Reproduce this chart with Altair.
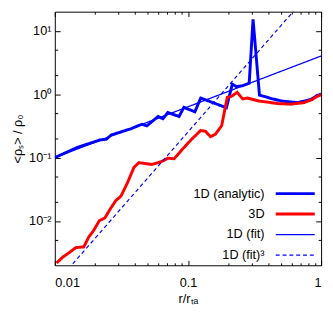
import altair as alt
import pandas as pd

# ---- data ----
analytic_x = [0.01, 0.0148, 0.0219, 0.0244, 0.0265, 0.0371, 0.0452, 0.0491, 0.0597, 0.0649,
              0.0706, 0.0857, 0.0932, 0.1127, 0.1247, 0.1945, 0.2153, 0.2301, 0.2576, 0.2884,
              0.3083, 0.3443, 0.426, 0.5035, 0.6653, 0.8318, 0.9311, 1.0]
analytic_y = [0.1, 0.145, 0.19, 0.195, 0.227, 0.284, 0.336, 0.316, 0.445, 0.41,
              0.514, 0.445, 0.62, 0.526, 0.87, 0.61, 1.44, 1.32, 1.36, 1.49,
              15.2, 0.97, 0.85, 0.78, 0.736, 0.82, 0.95, 1.0]

sim3d_x = [0.0103, 0.0115, 0.0129, 0.0144, 0.0165, 0.0180, 0.0195, 0.0216, 0.0238, 0.0265,
           0.0288, 0.0314, 0.0351, 0.0393, 0.0427, 0.0534, 0.0631, 0.0706, 0.0788, 0.0908,
           0.1054, 0.1247, 0.1355, 0.1475, 0.1603, 0.1791, 0.1972, 0.2118, 0.2342, 0.2576,
           0.2800, 0.3404, 0.4765, 0.5957, 0.7430, 0.8551, 0.9311, 1.0]
sim3d_y = [0.00217, 0.0027, 0.0032, 0.0038, 0.0039, 0.0056, 0.0070, 0.0101, 0.0112, 0.0163,
           0.0211, 0.0247, 0.040, 0.070, 0.083, 0.078, 0.086, 0.098, 0.096, 0.135,
           0.19, 0.268, 0.26, 0.214, 0.232, 0.318, 0.89, 0.92, 1.07, 0.84,
           0.87, 0.78, 0.71, 0.695, 0.736, 0.82, 0.92, 0.98]

fit_x = [0.01, 1.0]
fit_y = [0.1, 4.0]
fit3_x = [0.01, 1.0]
fit3_y = [0.001, 64.0]

series_names = ["1D (analytic)", "3D", "1D (fit)", "1D (fit)³"]
series_colors = ["#0000ff", "#ff0000", "#0000ff", "#0000ff"]
series_widths = [3, 3, 1.3, 1.2]
series_dashes = [[1, 0], [1, 0], [1, 0], [4, 3]]

x_tick_values = [0.01, 0.02, 0.03, 0.04, 0.05, 0.06, 0.07, 0.08, 0.09,
                 0.1, 0.2, 0.3, 0.4, 0.5, 0.6, 0.7, 0.8, 0.9, 1.0]
y_tick_values = [0.005, 0.01, 0.02, 0.05, 0.1, 0.2, 0.5, 1, 2, 5, 10]
x_label_values = [0.01, 0.1, 1]
y_label_values = [0.01, 0.1, 1, 10]

rows = []
for name, xs_, ys_ in [(series_names[0], analytic_x, analytic_y),
                       (series_names[1], sim3d_x, sim3d_y),
                       (series_names[2], fit_x, fit_y),
                       (series_names[3], fit3_x, fit3_y)]:
    for a, b in zip(xs_, ys_):
        rows.append({"x": a, "y": b, "series": name})
df = pd.DataFrame(rows)

W, H = 273, 260
FONT = "Liberation Sans"

xs = alt.Scale(type="log", domain=[0.01, 1])
ys = alt.Scale(type="log", domain=[0.002, 20])

major_test = "abs(log(datum.value)/LN10 - round(log(datum.value)/LN10)) < 0.01"
x_tick_size = {"condition": {"test": major_test, "value": 5}, "value": 2.5}
y_tick_size = {"condition": {"test": major_test, "value": 5.5}, "value": 3}

y_label_expr = ("datum.value >= 5 ? '10¹' : datum.value >= 0.5 ? '10⁰' : "
                "datum.value >= 0.05 ? '10⁻¹' : '10⁻²'")

lines = alt.Chart(df).mark_line(clip=True).encode(
    x=alt.X("x:Q", scale=xs,
            axis=alt.Axis(title="r/rₜₐ", values=x_label_values, format="~g",
                          ticks=False, domain=False, labelPadding=12, titlePadding=3)),
    y=alt.Y("y:Q", scale=ys,
            axis=alt.Axis(title="<ρₛ> / ρ₀", values=y_label_values, labelExpr=y_label_expr,
                          ticks=False, domain=False, labelPadding=4, titlePadding=4)),
    color=alt.Color("series:N", scale=alt.Scale(domain=series_names, range=series_colors),
                    legend=alt.Legend(title=None)),
    strokeWidth=alt.StrokeWidth("series:N",
                                scale=alt.Scale(type="ordinal", domain=series_names, range=series_widths),
                                legend=alt.Legend(title=None)),
    strokeDash=alt.StrokeDash("series:N", scale=alt.Scale(domain=series_names, range=series_dashes),
                              legend=alt.Legend(title=None)),
)

ticks_a = alt.Chart(df).mark_point(opacity=0).encode(
    x=alt.X("x:Q", scale=xs,
            axis=alt.Axis(orient="top", offset=-H, values=x_tick_values, labels=False,
                          title=None, domain=False, tickSize=x_tick_size)),
    y=alt.Y("y:Q", scale=ys,
            axis=alt.Axis(orient="right", offset=-W, values=y_tick_values, labels=False,
                          title=None, domain=False, tickSize=y_tick_size)),
)
ticks_b = alt.Chart(df).mark_point(opacity=0).encode(
    x=alt.X("x:Q", scale=xs,
            axis=alt.Axis(orient="bottom", offset=-H, values=x_tick_values, labels=False,
                          title=None, domain=False, tickSize=x_tick_size)),
    y=alt.Y("y:Q", scale=ys,
            axis=alt.Axis(orient="left", offset=-W, values=y_tick_values, labels=False,
                          title=None, domain=False, tickSize=y_tick_size)),
)

chart = alt.layer(lines, ticks_a, ticks_b).resolve_axis(
    x="independent", y="independent"
).properties(
    width=W, height=H,
    autosize=alt.AutoSizeParams(type="none"),
    padding={"left": 48, "top": 0, "right": 4, "bottom": 40},
).configure_view(
    stroke="black", strokeWidth=1
).configure_axis(
    grid=False, labelFont=FONT, labelFontSize=13, labelColor="black",
    titleFont=FONT, titleFontSize=13, titleFontWeight="normal", titleColor="black",
    tickColor="black", tickWidth=1
).configure_legend(
    orient="none", legendX=240, legendY=180, padding=0,
    symbolType="M-4,0H4", symbolSize=100,
    labelFont=FONT, labelFontSize=13, labelColor="black",
    labelAlign="right", labelOffset={"expr": "-38"}, rowPadding=7,
)

chart.save("out.html", embed_options={"renderer": "svg", "actions": False})
